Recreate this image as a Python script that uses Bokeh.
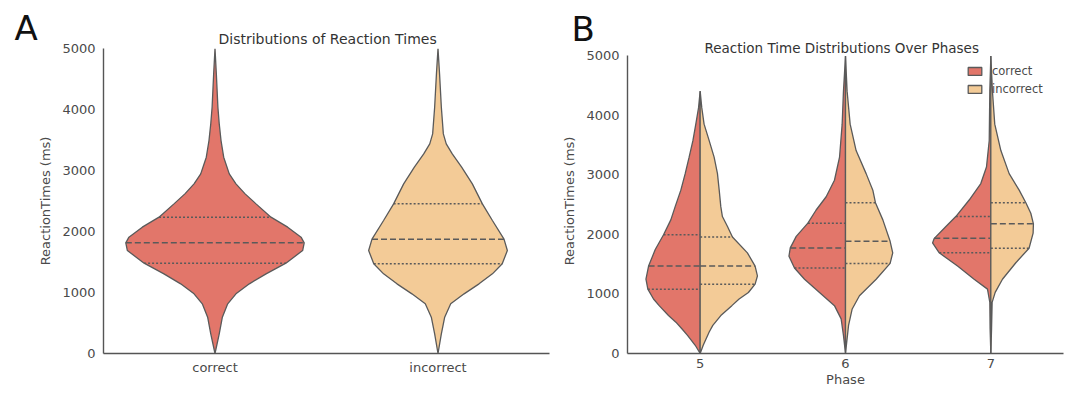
import numpy as np
from bokeh.plotting import figure
from bokeh.models import Range1d, Title, Legend, LegendItem, FixedTicker
from bokeh.layouts import row
from bokeh.embed import file_html
from bokeh.resources import INLINE

# ---------------- data ----------------
# Panel A: overall distributions, half-widths of the violins in category units
cats_a = ["correct", "incorrect"]
a_cor_rt = [0, 322, 595, 814, 978, 1142, 1306, 1481, 1688, 1814, 1907, 2071, 2235, 2453, 2617, 2781, 2945, 3218, 3491, 3764, 4037, 4584, 5000]
a_cor_w = [0, 0.019, 0.033, 0.057, 0.094, 0.154, 0.229, 0.318, 0.393, 0.400, 0.386, 0.326, 0.251, 0.184, 0.135, 0.094, 0.064, 0.039, 0.027, 0.019, 0.013, 0.006, 0]
a_inc_rt = [0, 322, 595, 814, 978, 1142, 1306, 1470, 1688, 1874, 2180, 2453, 2781, 3054, 3272, 3436, 3600, 4037, 4584, 5000]
a_inc_w = [0, 0.015, 0.030, 0.057, 0.117, 0.184, 0.244, 0.288, 0.311, 0.296, 0.244, 0.199, 0.154, 0.106, 0.064, 0.037, 0.024, 0.015, 0.007, 0]
a_quart = {"correct": [1481, 1814, 2235], "incorrect": [1470, 1874, 2453]}

# Panel B: split violins per phase
phases = ["5", "6", "7"]
b5_cor_rt = [0, 138, 305, 415, 526, 637, 803, 914, 1080, 1246, 1467, 1744, 1993, 2242, 2464, 2741, 3018, 3294, 3571, 3848, 4125, 4402]
b5_cor_w = [0, 0.034, 0.087, 0.126, 0.167, 0.218, 0.282, 0.321, 0.360, 0.373, 0.355, 0.309, 0.252, 0.202, 0.172, 0.133, 0.103, 0.076, 0.050, 0.030, 0.011, 0]
b5_inc_rt = [0, 138, 360, 471, 637, 803, 914, 1024, 1163, 1301, 1467, 1689, 1955, 2131, 2298, 2464, 2741, 3018, 3294, 3571, 3848, 4125, 4402]
b5_inc_w = [0, 0.021, 0.062, 0.087, 0.142, 0.218, 0.268, 0.332, 0.378, 0.394, 0.378, 0.325, 0.222, 0.188, 0.153, 0.142, 0.131, 0.119, 0.096, 0.062, 0.027, 0.011, 0]
b6_cor_rt = [0, 305, 581, 803, 1025, 1246, 1434, 1633, 1772, 1965, 2187, 2408, 2630, 2907, 3294, 3848, 4402, 4990]
b6_cor_w = [0, 0.014, 0.030, 0.076, 0.179, 0.282, 0.351, 0.389, 0.380, 0.339, 0.259, 0.202, 0.133, 0.076, 0.041, 0.023, 0.014, 0]
b6_inc_rt = [0, 471, 747, 969, 1246, 1512, 1689, 1882, 2242, 2530, 2741, 3018, 3405, 3848, 4402, 4990]
b6_inc_w = [0, 0.021, 0.046, 0.096, 0.211, 0.307, 0.325, 0.307, 0.257, 0.206, 0.188, 0.142, 0.073, 0.032, 0.011, 0]
b7_cor_rt = [0, 415, 858, 1080, 1246, 1467, 1689, 1855, 1932, 2131, 2298, 2575, 2851, 3128, 3571, 4402, 4990]
b7_cor_w = [0, 0.005, 0.007, 0.023, 0.115, 0.229, 0.355, 0.401, 0.389, 0.309, 0.241, 0.149, 0.069, 0.030, 0.011, 0.007, 0]
b7_inc_rt = [0, 415, 858, 1025, 1246, 1523, 1766, 2021, 2176, 2353, 2530, 2741, 3018, 3405, 3848, 4402, 4990]
b7_inc_w = [0, 0.005, 0.009, 0.030, 0.080, 0.172, 0.263, 0.291, 0.293, 0.275, 0.241, 0.195, 0.126, 0.069, 0.027, 0.011, 0]
b_quart_cor = [[1080, 1467, 1993], [1434, 1772, 2187], [1689, 1932, 2298]]
b_quart_inc = [[1163, 1467, 1955], [1512, 1882, 2530], [1766, 2176, 2530]]

y_ticks = [0, 1000, 2000, 3000, 4000, 5000]
y_max = 5000

# ---------------- styling ----------------
RED = "#E2766A"
TAN = "#F3CB97"
EDGE = "#5a5a5a"
TXT = "#4a4a4a"
FONT = "DejaVu Sans"


def style(p, ylabel, xlabel=None):
    p.xgrid.visible = False
    p.ygrid.visible = False
    p.outline_line_color = None
    for ax in (p.xaxis[0], p.yaxis[0]):
        ax.axis_line_color = "#555555"
        ax.axis_line_width = 1.4
        ax.major_tick_line_color = None
        ax.minor_tick_line_color = None
        ax.major_tick_out = 0
        ax.major_tick_in = 0
        ax.minor_tick_out = 0
        ax.minor_tick_in = 0
        ax.major_label_text_font = FONT
        ax.major_label_text_font_size = "13px"
        ax.major_label_text_color = TXT
        ax.axis_label_text_font = FONT
        ax.axis_label_text_font_size = "13px"
        ax.axis_label_text_font_style = "normal"
        ax.axis_label_text_color = TXT
    p.yaxis[0].ticker = FixedTicker(ticks=y_ticks)
    p.yaxis[0].bounds = (0, y_max)
    p.yaxis[0].axis_label = ylabel
    p.yaxis[0].major_label_standoff = 8
    p.yaxis[0].axis_label_standoff = 6
    p.xaxis[0].major_label_standoff = 6
    if xlabel:
        p.xaxis[0].axis_label = xlabel
        p.xaxis[0].major_label_standoff = 5
        p.xaxis[0].axis_label_standoff = 1


def add_titles(p, letter, letter_offset, letter_standoff, title, title_offset, title_standoff, title_size):
    # chart title first (closest to the frame), then the panel letter above it
    p.add_layout(Title(text=title, align="left", offset=title_offset, standoff=title_standoff,
                       text_font=FONT, text_font_size=title_size, text_font_style="normal",
                       text_color="#333333"), "above")
    p.add_layout(Title(text=letter, align="left", offset=letter_offset, standoff=letter_standoff,
                       text_font=FONT, text_font_size="34px", text_font_style="normal",
                       text_color="#111111", vertical_align="bottom"), "above")


def quart_lines(p, q, rt, w, c, side):
    for i, v in enumerate(q):
        wq = float(np.interp(v, rt, w))
        x0 = c - wq if side in ("both", "left") else c
        x1 = c + wq if side in ("both", "right") else c
        dash = "6 3" if i == 1 else "2 2"
        p.segment(x0=[x0], x1=[x1], y0=[v], y1=[v], line_color=EDGE, line_width=1.5, line_dash=dash)


H = 393

# ---------------- panel A ----------------
pa = figure(width=551, height=H, x_range=Range1d(-0.5, 1.5), y_range=Range1d(0, y_max),
            output_backend="svg", toolbar_location=None, title=None,
            min_border_left=103, min_border_right=2, min_border_top=48, min_border_bottom=40)
style(pa, "ReactionTimes (ms)")
pa.xaxis[0].ticker = FixedTicker(ticks=[0, 1])
pa.xaxis[0].major_label_overrides = {0: cats_a[0], 1: cats_a[1]}
add_titles(pa, "A", -89, -40, "Distributions of Reaction Times", 115, 2.5, "14px")

for c, (rt, w, col, name) in enumerate([(a_cor_rt, a_cor_w, RED, "correct"), (a_inc_rt, a_inc_w, TAN, "incorrect")]):
    rt = np.array(rt, float)
    w = np.array(w, float)
    xs = np.concatenate([c + w, (c - w)[::-1]])
    ys = np.concatenate([rt, rt[::-1]])
    pa.patch(xs, ys, fill_color=col, line_color=EDGE, line_width=1.3)
    quart_lines(pa, a_quart[name], rt, w, c, "both")

# ---------------- panel B ----------------
# frames of the two panels are aligned by the row; panel B's axis starts 7px lower
pb = figure(width=521, height=H, x_range=Range1d(-0.5, 2.5), y_range=Range1d(0, y_max * 305 / 298),
            output_backend="svg", toolbar_location=None, title=None,
            min_border_left=76, min_border_right=9, min_border_top=48, min_border_bottom=40)
style(pb, "ReactionTimes (ms)", "Phase")
pb.xaxis[0].ticker = FixedTicker(ticks=[0, 1, 2])
pb.xaxis[0].major_label_overrides = {i: ph for i, ph in enumerate(phases)}
add_titles(pb, "B", -56, -6, "Reaction Time Distributions Over Phases", 77, -15, "13.5px")

b_cor = [(b5_cor_rt, b5_cor_w), (b6_cor_rt, b6_cor_w), (b7_cor_rt, b7_cor_w)]
b_inc = [(b5_inc_rt, b5_inc_w), (b6_inc_rt, b6_inc_w), (b7_inc_rt, b7_inc_w)]
leg_r = {}
for c in range(3):
    rt, w = np.array(b_cor[c][0], float), np.array(b_cor[c][1], float)
    r1 = pb.patch(np.concatenate([c - w, [c]]), np.concatenate([rt, [0]]),
                  fill_color=RED, line_color=EDGE, line_width=1.3)
    quart_lines(pb, b_quart_cor[c], rt, w, c, "left")
    rt2, w2 = np.array(b_inc[c][0], float), np.array(b_inc[c][1], float)
    r2 = pb.patch(np.concatenate([c + w2, [c]]), np.concatenate([rt2, [0]]),
                  fill_color=TAN, line_color=EDGE, line_width=1.3)
    quart_lines(pb, b_quart_inc[c], rt2, w2, c, "right")
    if c == 0:
        leg_r["correct"] = r1
        leg_r["incorrect"] = r2

legend = Legend(items=[LegendItem(label="correct", renderers=[leg_r["correct"]]),
                       LegendItem(label="incorrect", renderers=[leg_r["incorrect"]])],
                location=(339, 257), orientation="vertical")
legend.background_fill_alpha = 0
legend.border_line_color = None
legend.label_text_font = FONT
legend.label_text_font_size = "11.5px"
legend.label_text_color = TXT
legend.glyph_width = 17
legend.glyph_height = 10
legend.label_height = 14
legend.spacing = 4
legend.padding = 0
legend.margin = 0
legend.label_standoff = 9
pb.add_layout(legend)

layout = row(pa, pb)
open("out.html", "w").write(file_html(layout, INLINE))
